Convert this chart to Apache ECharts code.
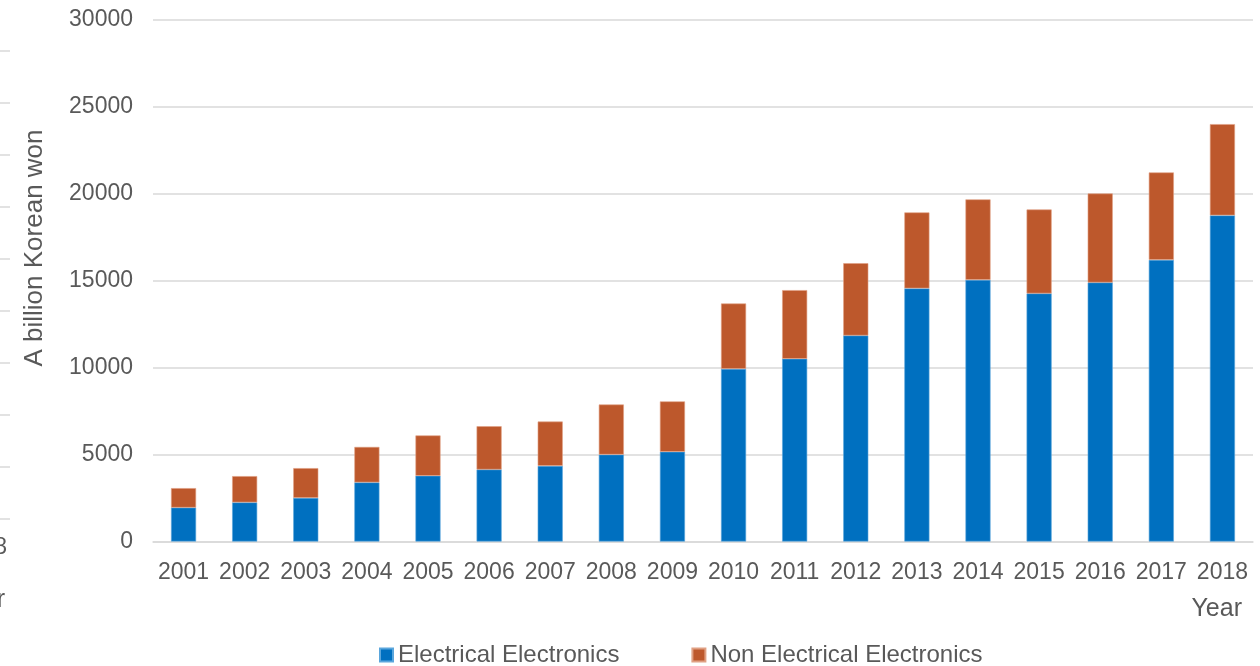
<!DOCTYPE html>
<html>
<head>
<meta charset="utf-8">
<script src="https://cdn.jsdelivr.net/npm/echarts@6/dist/echarts.min.js"></script>
<style>
  html, body { margin: 0; padding: 0; background: #ffffff; }
  #chart { width: 1260px; height: 666px; }
</style>
</head>
<body>
<div id="chart"></div>
<script>
// Annual amounts (a billion Korean won), stacked by product type
const years = ['2001','2002','2003','2004','2005','2006','2007','2008','2009',
               '2010','2011','2012','2013','2014','2015','2016','2017','2018'];
const electrical = [1950, 2250, 2510, 3400, 3780, 4140, 4350, 5000, 5160,
                    9930, 10510, 11850, 14560, 15050, 14270, 14900, 16200, 18760];
const nonElectrical = [1120, 1510, 1710, 2040, 2320, 2490, 2550, 2880, 2900,
                       3760, 3950, 4160, 4370, 4630, 4830, 5120, 5030, 5250];
const seriesNames = ['Electrical Electronics', 'Non Electrical Electronics'];
const yTicks = { min: 0, max: 30000, interval: 5000 };

const FONT = '"Liberation Sans", Arial, sans-serif';
const TEXT = '#595959';
const GRID = '#d9d9d9';

// Edge of the neighbouring panel: short grid stubs and clipped labels
const stubYs = [51, 103, 155, 207, 259, 311, 363, 415, 467, 519];
const edgeGraphics = stubYs.map(y => ({
  type: 'line', silent: true,
  shape: { x1: 0, y1: y, x2: 10, y2: y },
  style: { stroke: GRID, lineWidth: 1.5 }
}));
edgeGraphics.push(
  { type: 'text', x: 7, y: 548, silent: true,
    style: { text: '2018', font: '23px ' + FONT, fill: TEXT, align: 'right', verticalAlign: 'middle' } },
  { type: 'text', x: 5, y: 600, silent: true,
    style: { text: 'Year', font: '25px ' + FONT, fill: TEXT, align: 'right', verticalAlign: 'middle' } }
);

const chart = echarts.init(document.getElementById('chart'), null, { renderer: 'canvas' });
chart.setOption({
  animation: false,
  backgroundColor: '#ffffff',
  textStyle: { fontFamily: FONT },
  grid: { left: 153, right: 7, top: 20, bottom: 124.5, containLabel: false },
  legend: {
    left: 379, top: 643, padding: 0,
    itemWidth: 13, itemHeight: 13, itemGap: 72,
    icon: 'rect',
    textStyle: { color: TEXT, fontSize: 24, fontFamily: FONT },
    data: seriesNames
  },
  xAxis: {
    type: 'category',
    data: years,
    axisLine: { show: true, lineStyle: { color: GRID, width: 1.5 } },
    axisTick: { show: false },
    axisLabel: { color: TEXT, fontSize: 23, fontFamily: FONT, margin: 20, interval: 0 }
  },
  yAxis: {
    type: 'value',
    min: yTicks.min, max: yTicks.max, interval: yTicks.interval,
    axisLine: { show: false },
    axisTick: { show: false },
    splitLine: { lineStyle: { color: GRID, width: 1.5 } },
    axisLabel: { color: TEXT, fontSize: 23, fontFamily: FONT, margin: 20,
                 formatter: v => String(v) }
  },
  graphic: [
    { type: 'text', x: 35, y: 248, rotation: Math.PI / 2, silent: true,
      style: { text: 'A billion Korean won', font: '26px ' + FONT, fill: TEXT,
               align: 'center', verticalAlign: 'middle' } },
    { type: 'text', right: 18, top: 597, silent: true,
      style: { text: 'Year', font: '25px ' + FONT, fill: TEXT } }
  ].concat(edgeGraphics),
  series: [
    {
      name: seriesNames[0], type: 'bar', stack: 'total',
      data: electrical, barWidth: '41%',
      itemStyle: { color: '#0070C0', borderColor: '#5aa6dc', borderWidth: 0.6 }
    },
    {
      name: seriesNames[1], type: 'bar', stack: 'total',
      data: nonElectrical, barWidth: '41%',
      itemStyle: { color: '#BD582C', borderColor: '#e0a083', borderWidth: 0.6 }
    }
  ]
});
</script>
</body>
</html>
